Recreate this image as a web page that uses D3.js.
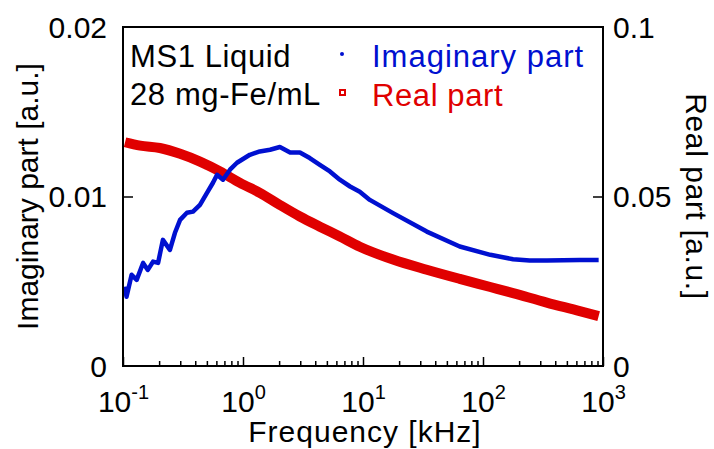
<!DOCTYPE html>
<html>
<head>
<meta charset="utf-8">
<script src="https://cdn.jsdelivr.net/npm/d3@7"></script>
<style>
  body { margin: 0; background: #fff; }
  text { font-family: "Liberation Sans", Arial, sans-serif; }
</style>
</head>
<body>
<script>
// values
var imagFreq = [0.104, 0.107, 0.118, 0.130, 0.147, 0.161, 0.178, 0.196, 0.215, 0.246, 0.271, 0.299, 0.341, 0.383, 0.438, 0.501, 0.562, 0.608, 0.681, 0.779, 0.891, 1.08, 1.14, 1.38, 1.68, 2.03, 2.47, 2.98, 3.6, 4.37, 5.3, 6.41, 7.8, 9.4, 11.4, 17.8, 34, 64, 115, 178, 245, 340, 640, 920];
var imagVals = [0.00468, 0.00409, 0.00538, 0.00508, 0.00608, 0.00567, 0.00616, 0.00608, 0.00744, 0.00685, 0.00786, 0.00862, 0.00904, 0.00911, 0.00951, 0.01022, 0.01081, 0.01128, 0.01099, 0.01158, 0.01199, 0.01236, 0.01246, 0.01266, 0.01276, 0.01292, 0.01260, 0.01260, 0.01227, 0.01187, 0.01148, 0.01099, 0.01059, 0.01028, 0.0098, 0.00902, 0.00793, 0.00705, 0.00656, 0.0063, 0.00622, 0.00622, 0.00626, 0.00626];

var realFreq = [0.104, 0.139, 0.203, 0.299, 0.438, 0.643, 0.944, 1.38, 2.03, 2.98, 4.37, 6.41, 9.4, 17.8, 34, 64, 115, 178, 340, 640, 920];
var realVals = [0.0660, 0.0650, 0.0643, 0.0626, 0.0603, 0.0574, 0.0540, 0.0511, 0.0475, 0.0441, 0.0411, 0.0382, 0.0352, 0.0314, 0.0284, 0.0257, 0.0233, 0.0215, 0.0187, 0.0162, 0.0147];

var xTicks = [0.1, 1, 10, 100, 1000];
var xExps = ["-1", "0", "1", "2", "3"];
var leftTicks = [0, 0.01, 0.02];
var leftLabels = ["0", "0.01", "0.02"];
var rightTicks = [0, 0.05, 0.1];
var rightLabels = ["0", "0.05", "0.1"];

var margin = {top: 27, right: 111, bottom: 83, left: 123},
  width = 714 - margin.left - margin.right,
  height = 449 - margin.top - margin.bottom;

var svg = d3.select("body").append("svg")
    .attr("width", 714)
    .attr("height", 449)
  .append("g")
    .attr("transform", "translate(" + margin.left + "," + margin.top + ")");

var x = d3.scaleLog().domain([0.1, 1000]).range([0, width]);
var yL = d3.scaleLinear().domain([0, 0.02]).range([height, 0]);
var yR = d3.scaleLinear().domain([0, 0.1]).range([height, 0]);

var imagData = imagFreq.map(function(f, i){ return {f: f, v: imagVals[i]}; });
var realData = realFreq.map(function(f, i){ return {f: f, v: realVals[i]}; });

// red series (right axis)
svg.append("path")
  .datum(realData)
  .attr("fill", "none")
  .attr("stroke", "#e00000")
  .attr("stroke-width", 10)
  .attr("d", d3.line().curve(d3.curveMonotoneX)
    .x(function(d){ return x(d.f); })
    .y(function(d){ return yR(d.v); }));

// blue series (left axis)
svg.append("path")
  .datum(imagData)
  .attr("fill", "none")
  .attr("stroke", "#0010d0")
  .attr("stroke-width", 4.5)
  .attr("stroke-linejoin", "round")
  .attr("d", d3.line()
    .x(function(d){ return x(d.f); })
    .y(function(d){ return yL(d.v); }));

// minor x ticks
var minor = [];
for (var e = -1; e < 3; e++) for (var m = 2; m <= 9; m++) minor.push(m * Math.pow(10, e));

var xMinor = svg.append("g")
  .attr("transform", "translate(0," + height + ")")
  .call(d3.axisBottom(x).tickValues(minor).tickSize(-5).tickFormat(""));
xMinor.select(".domain").remove();

var xAxis = svg.append("g")
  .attr("transform", "translate(0," + height + ")")
  .call(d3.axisBottom(x).tickValues(xTicks).tickSize(-9).tickFormat(""));
xAxis.select(".domain").remove();
xAxis.selectAll(".tick").each(function(d, i){
  var t = d3.select(this).append("text")
    .attr("fill", "#000")
    .attr("y", 46)
    .attr("text-anchor", "middle")
    .style("font-size", "30px");
  t.append("tspan").text("10");
  t.append("tspan").attr("dy", -13).style("font-size", "20px").text(xExps[i]);
});

// left axis
var left = svg.append("g")
  .call(d3.axisLeft(yL).tickValues([0.01]).tickSize(-10).tickFormat(""));
left.select(".domain").remove();
svg.selectAll(".lbl-left").data(leftTicks).enter().append("text")
  .attr("x", -16)
  .attr("y", function(d){ return yL(d); })
  .attr("dy", "0.36em")
  .attr("text-anchor", "end")
  .style("font-size", "30px")
  .text(function(d, i){ return leftLabels[i]; });

// right axis
var right = svg.append("g")
  .attr("transform", "translate(" + width + ",0)")
  .call(d3.axisRight(yR).tickValues([0.05]).tickSize(-10).tickFormat(""));
right.select(".domain").remove();
svg.selectAll(".lbl-right").data(rightTicks).enter().append("text")
  .attr("x", width + 10)
  .attr("y", function(d){ return yR(d); })
  .attr("dy", "0.36em")
  .style("font-size", "30px")
  .text(function(d, i){ return rightLabels[i]; });
svg.selectAll(".tick line").attr("stroke", "#000").attr("stroke-width", 1.5);

// frame
svg.append("rect")
  .attr("width", width)
  .attr("height", height)
  .attr("fill", "none")
  .attr("stroke", "#000")
  .attr("stroke-width", 2);

// axis titles
svg.append("text")
  .attr("transform", "translate(" + (width / 2 + 2) + "," + (height + 76) + ")")
  .attr("text-anchor", "middle")
  .style("font-size", "30px")
  .style("letter-spacing", "1px")
  .text("Frequency [kHz]");

svg.append("text")
  .attr("transform", "translate(" + (38 - margin.left) + "," + (height / 2) + ") rotate(-90)")
  .attr("text-anchor", "middle")
  .style("font-size", "30px")
  .text("Imaginary part [a.u.]");

svg.append("text")
  .attr("transform", "translate(" + (686 - margin.left) + "," + (height / 2) + ") rotate(90)")
  .attr("text-anchor", "middle")
  .style("font-size", "30px")
  .style("letter-spacing", "0.6px")
  .text("Real part [a.u.]");

// sample annotation
svg.append("text").attr("x", 7).attr("y", 40).style("font-size", "31px")
  .style("letter-spacing", "0.6px").text("MS1 Liquid");
svg.append("text").attr("x", 7).attr("y", 78).style("font-size", "31px")
  .style("letter-spacing", "0.6px").text("28 mg-Fe/mL");

// legend
svg.append("circle").attr("cx", 219).attr("cy", 27).attr("r", 2).attr("fill", "#0010d0");
svg.append("text").attr("x", 249).attr("y", 40).attr("fill", "#0010d0")
  .style("font-size", "31px").style("letter-spacing", "1px").text("Imaginary part");
svg.append("rect").attr("x", 217).attr("y", 63).attr("width", 5).attr("height", 5)
  .attr("fill", "none").attr("stroke", "#e00000").attr("stroke-width", 2);
svg.append("text").attr("x", 249).attr("y", 79).attr("fill", "#e00000")
  .style("font-size", "31px").style("letter-spacing", "0.6px").text("Real part");
</script>
</body>
</html>
